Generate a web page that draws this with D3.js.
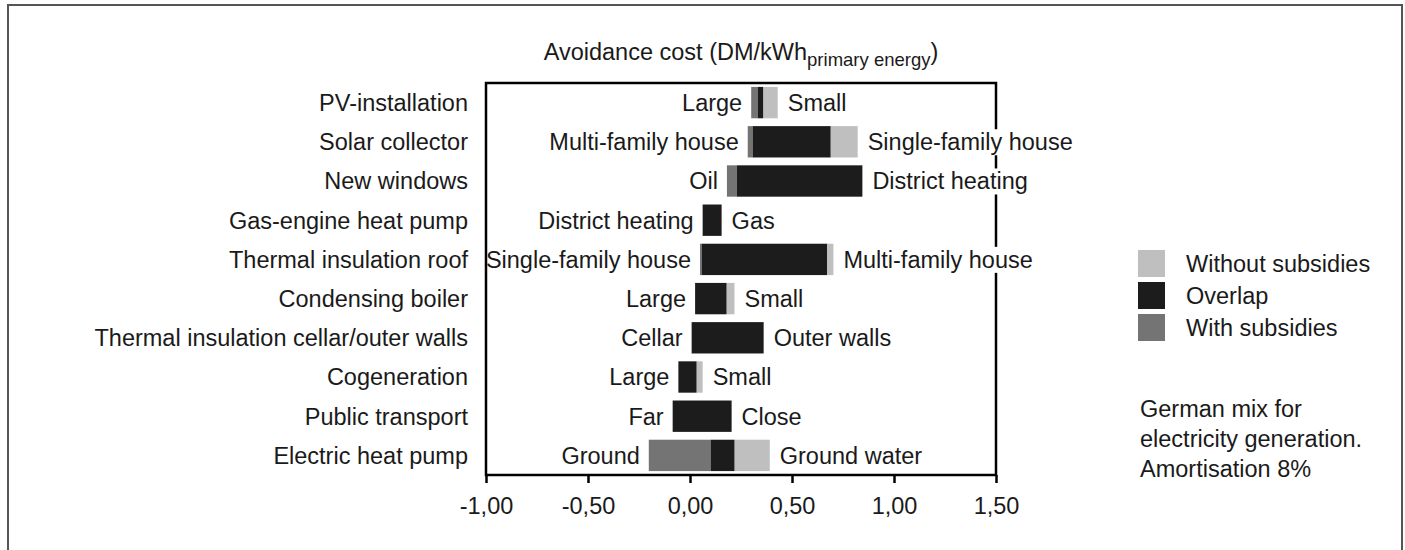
<!DOCTYPE html>
<html>
<head>
<meta charset="utf-8">
<script src="https://cdn.jsdelivr.net/npm/d3@7"></script>
<style>
  body { margin: 0; background: #fff; }
  svg text { font-family: "Liberation Sans", Arial, sans-serif; fill: #1a1a1a; }
</style>
</head>
<body>
<svg id="chart"></svg>
<script>
const width = 1405
const height = 550

// Measures (top to bottom)
const categories = [
    'PV-installation', 'Solar collector', 'New windows', 'Gas-engine heat pump',
    'Thermal insulation roof', 'Condensing boiler', 'Thermal insulation cellar/outer walls',
    'Cogeneration', 'Public transport', 'Electric heat pump'
];
// Segment boundaries (DM/kWh): with subsidies start, overlap start, overlap end, without subsidies end
const withFrom    = [0.30, 0.283, 0.181, 0.062, 0.049, 0.025, 0.008, -0.057, -0.085, -0.202];
const overlapFrom = [0.333, 0.307, 0.229, 0.062, 0.057, 0.025, 0.008, -0.057, -0.085, 0.101];
const overlapTo   = [0.36, 0.69, 0.845, 0.155, 0.673, 0.18, 0.361, 0.033, 0.204, 0.219];
const withoutTo   = [0.43, 0.822, 0.845, 0.155, 0.703, 0.218, 0.361, 0.062, 0.204, 0.391];

const leftLabels = ['Large', 'Multi-family house', 'Oil', 'District heating', 'Single-family house',
    'Large', 'Cellar', 'Large', 'Far', 'Ground'];
const rightLabels = ['Small', 'Single-family house', 'District heating', 'Gas', 'Multi-family house',
    'Small', 'Outer walls', 'Small', 'Close', 'Ground water'];

const xTicks = [-1, -0.5, 0, 0.5, 1, 1.5];
const legendNames = ['Without subsidies', 'Overlap', 'With subsidies'];
const noteLines = ['German mix for', 'electricity generation.', 'Amortisation 8%'];

const colors = { without: '#bfbfbf', overlap: '#1c1c1c', with: '#747474' };
const fontSize = 23.5;

var svg = d3.select('#chart')
    .attr('width', width)
    .attr('height', height);

// outer frame
svg.append('rect')
    .attr('x', 8).attr('y', 5)
    .attr('width', 1394).attr('height', 580)
    .attr('fill', 'none')
    .attr('stroke', '#555')
    .attr('stroke-width', 2);

var plot = { left: 486, right: 996, top: 83, bottom: 475 };

var xScale = d3.scaleLinear()
    .domain([-1, 1.5])
    .range([plot.left, plot.right]);

var yScale = d3.scaleBand()
    .domain(categories)
    .range([plot.top, plot.bottom])
    .paddingInner(0.2)
    .paddingOuter(0.1);

// build segments
var segs = [];
categories.forEach(function (c, i) {
    segs.push({ c, x0: withFrom[i], x1: overlapFrom[i], fill: colors.with });
    segs.push({ c, x0: overlapFrom[i], x1: overlapTo[i], fill: colors.overlap });
    segs.push({ c, x0: overlapTo[i], x1: withoutTo[i], fill: colors.without });
});

svg.append('g').selectAll('rect')
    .data(segs.filter(d => d.x1 > d.x0))
    .enter()
    .append('rect')
    .attr('x', d => xScale(d.x0))
    .attr('y', d => yScale(d.c))
    .attr('width', d => xScale(d.x1) - xScale(d.x0))
    .attr('height', yScale.bandwidth())
    .attr('fill', d => d.fill);

// plot box
svg.append('rect')
    .attr('x', plot.left).attr('y', plot.top)
    .attr('width', plot.right - plot.left)
    .attr('height', plot.bottom - plot.top)
    .attr('fill', 'none')
    .attr('stroke', '#000')
    .attr('stroke-width', 2.5);

// x axis
var fmt = d => d3.format('.2f')(d).replace('.', ',').replace('−', '-');
var xAxis = svg.append('g')
    .attr('transform', `translate(0,${plot.bottom})`)
    .call(d3.axisBottom(xScale).tickValues(xTicks).tickFormat(fmt).tickSizeInner(8).tickSizeOuter(0).tickPadding(14));
xAxis.select('.domain').remove();
xAxis.selectAll('line').attr('stroke', '#000').attr('stroke-width', 2.5);
xAxis.selectAll('text').attr('font-size', fontSize).attr('font-family', null);

// category labels
svg.append('g').selectAll('text')
    .data(categories)
    .enter()
    .append('text')
    .attr('x', 468)
    .attr('y', d => yScale(d) + yScale.bandwidth() / 2)
    .attr('dy', '0.36em')
    .attr('text-anchor', 'end')
    .attr('font-size', fontSize)
    .text(d => d);

// bar end labels; the right ones get a white background that hides the box border, as in the original
function endLabels(texts, xPos, anchor, masked) {
    var g = svg.append('g').selectAll('g')
        .data(categories)
        .enter()
        .append('g');
    var t = g.append('text')
        .attr('x', (d, i) => xPos(i))
        .attr('y', d => yScale(d) + yScale.bandwidth() / 2)
        .attr('dy', '0.36em')
        .attr('text-anchor', anchor)
        .attr('font-size', fontSize)
        .text((d, i) => texts[i]);
    if (!masked) return;
    t.each(function () {
        var b = this.getBBox();
        d3.select(this.parentNode).insert('rect', 'text')
            .attr('fill', '#fff')
            .attr('x', b.x - 1).attr('y', b.y)
            .attr('width', b.width + 2).attr('height', b.height);
    });
}
endLabels(leftLabels, i => xScale(withFrom[i]) - 9, 'end', false);
endLabels(rightLabels, i => xScale(withoutTo[i]) + 10, 'start', true);

// title
var title = svg.append('text')
    .attr('x', (plot.left + plot.right) / 2)
    .attr('y', 60)
    .attr('text-anchor', 'middle')
    .attr('font-size', fontSize);
title.append('tspan').text('Avoidance cost (DM/kWh');
title.append('tspan').attr('font-size', 18.5).attr('dy', 6).text('primary energy');
title.append('tspan').attr('dy', -6).text(')');

// legend
var legendColors = [colors.without, colors.overlap, colors.with];
var legend = svg.append('g').selectAll('g')
    .data(legendNames)
    .enter()
    .append('g')
    .attr('transform', (d, i) => `translate(1138,${250 + i * 32})`);
legend.append('rect')
    .attr('width', 27).attr('height', 27)
    .attr('fill', (d, i) => legendColors[i]);
legend.append('text')
    .attr('x', 48).attr('y', 22)
    .attr('font-size', fontSize)
    .text(d => d);

// note
svg.append('g').selectAll('text')
    .data(noteLines)
    .enter()
    .append('text')
    .attr('x', 1140)
    .attr('y', (d, i) => 417 + i * 30)
    .attr('font-size', fontSize)
    .text(d => d);
</script>
</body>
</html>
